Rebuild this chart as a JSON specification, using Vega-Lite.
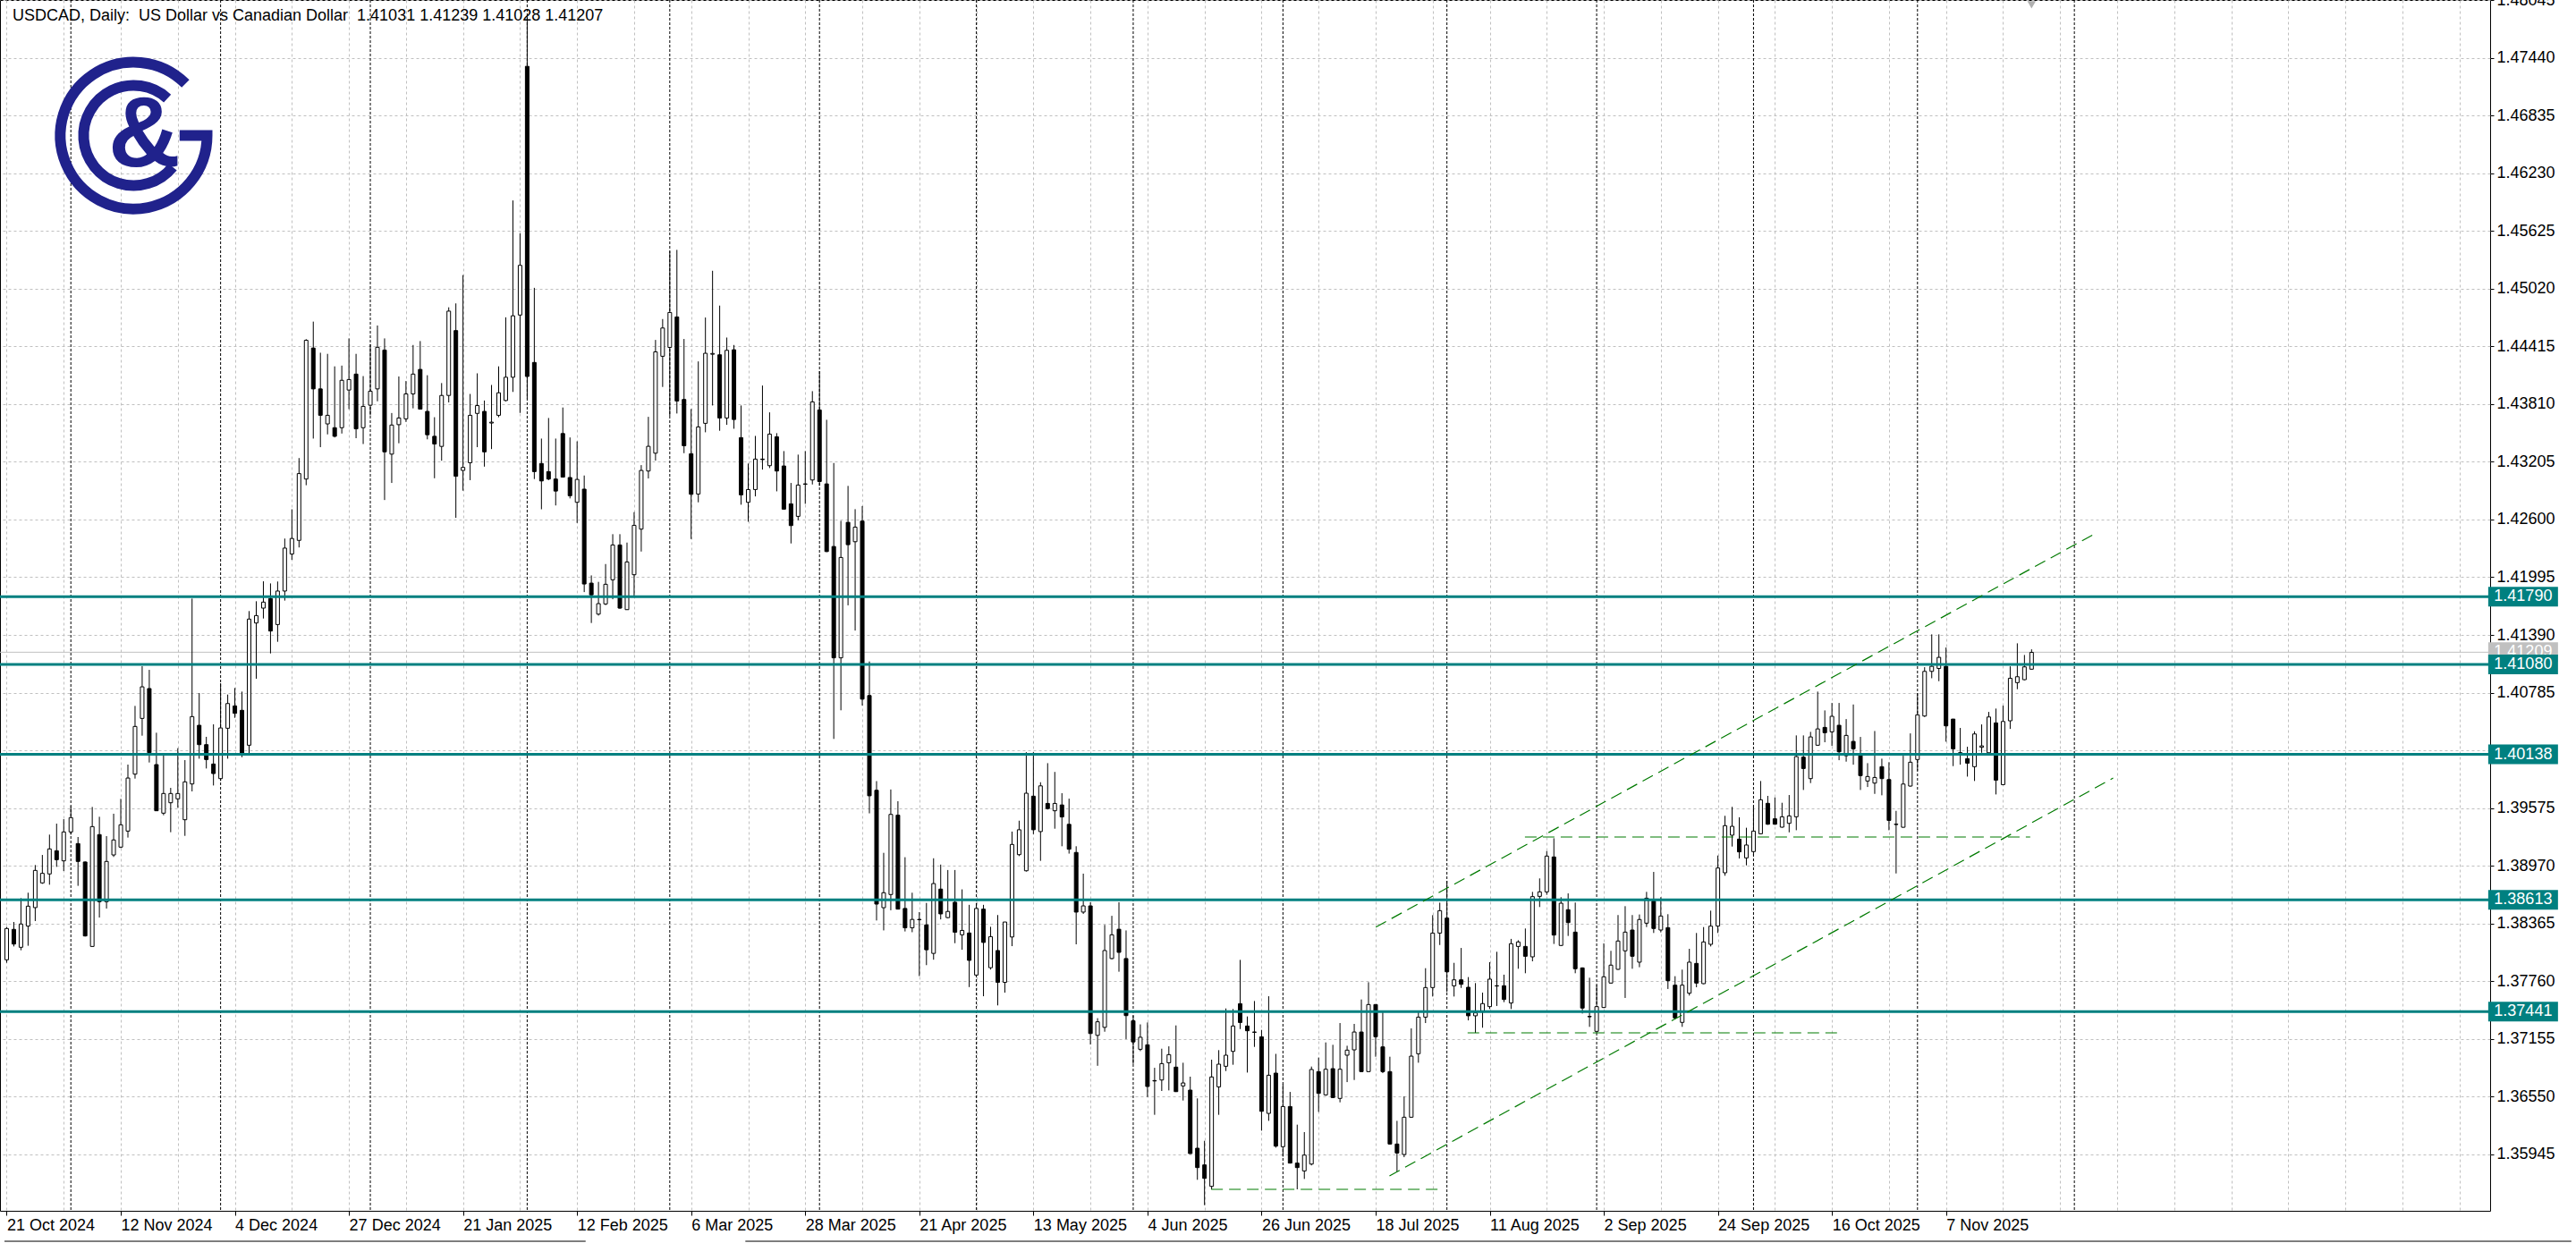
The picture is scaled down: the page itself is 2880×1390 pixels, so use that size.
{
"$schema":"https://vega.github.io/schema/vega-lite/v6.json",
"autosize":{"type":"none"},
"width":2784,"height":1354,
"padding":{"left":0,"top":0,"right":96,"bottom":36},
"background":"white",
"config":{"view":{"stroke":"black","strokeWidth":1},"font":"Liberation Sans"},
"datasets":{
"candles":[
{"i":0,"o":1.37985,"h":1.38329,"l":1.37954,"c":1.38313},
{"i":1,"o":1.38304,"h":1.38381,"l":1.38125,"c":1.38150},
{"i":2,"o":1.38116,"h":1.38631,"l":1.38085,"c":1.38360},
{"i":3,"o":1.38338,"h":1.38688,"l":1.38132,"c":1.38547},
{"i":4,"o":1.38532,"h":1.38978,"l":1.38391,"c":1.38922},
{"i":5,"o":1.38791,"h":1.39084,"l":1.38781,"c":1.38891},
{"i":6,"o":1.38885,"h":1.39297,"l":1.38772,"c":1.39147},
{"i":7,"o":1.39128,"h":1.39412,"l":1.38959,"c":1.39034},
{"i":8,"o":1.39022,"h":1.39459,"l":1.38916,"c":1.39325},
{"i":9,"o":1.39325,"h":1.39594,"l":1.39297,"c":1.39475},
{"i":10,"o":1.39203,"h":1.39272,"l":1.38760,"c":1.39016},
{"i":11,"o":1.39010,"h":1.39016,"l":1.38229,"c":1.38235},
{"i":12,"o":1.38125,"h":1.39587,"l":1.38122,"c":1.39381},
{"i":13,"o":1.39297,"h":1.39484,"l":1.38428,"c":1.38594},
{"i":14,"o":1.38594,"h":1.39281,"l":1.38522,"c":1.39016},
{"i":15,"o":1.39084,"h":1.39516,"l":1.39063,"c":1.39241},
{"i":16,"o":1.39166,"h":1.39672,"l":1.39156,"c":1.39400},
{"i":17,"o":1.39334,"h":1.40031,"l":1.39266,"c":1.39890},
{"i":18,"o":1.39931,"h":1.40646,"l":1.39884,"c":1.40431},
{"i":19,"o":1.40515,"h":1.41062,"l":1.40334,"c":1.40846},
{"i":20,"o":1.40828,"h":1.41024,"l":1.40053,"c":1.40156},
{"i":21,"o":1.40031,"h":1.40365,"l":1.39547,"c":1.39547},
{"i":22,"o":1.39522,"h":1.40125,"l":1.39500,"c":1.39728},
{"i":23,"o":1.39631,"h":1.39787,"l":1.39322,"c":1.39728},
{"i":24,"o":1.39672,"h":1.40203,"l":1.39578,"c":1.39728},
{"i":25,"o":1.39453,"h":1.40078,"l":1.39284,"c":1.39850},
{"i":26,"o":1.39828,"h":1.41771,"l":1.39750,"c":1.40534},
{"i":27,"o":1.40443,"h":1.40781,"l":1.40093,"c":1.40240},
{"i":28,"o":1.40240,"h":1.40322,"l":1.39990,"c":1.40084},
{"i":29,"o":1.40037,"h":1.40453,"l":1.39812,"c":1.39937},
{"i":30,"o":1.39884,"h":1.40884,"l":1.39859,"c":1.40415},
{"i":31,"o":1.40412,"h":1.40765,"l":1.40093,"c":1.40671},
{"i":32,"o":1.40646,"h":1.40834,"l":1.40521,"c":1.40568},
{"i":33,"o":1.40600,"h":1.40796,"l":1.40109,"c":1.40150},
{"i":34,"o":1.40234,"h":1.41640,"l":1.40150,"c":1.41556},
{"i":35,"o":1.41515,"h":1.41743,"l":1.40931,"c":1.41593},
{"i":36,"o":1.41671,"h":1.41952,"l":1.41562,"c":1.41734},
{"i":37,"o":1.41771,"h":1.41930,"l":1.41196,"c":1.41431},
{"i":38,"o":1.41499,"h":1.41950,"l":1.41318,"c":1.41850},
{"i":39,"o":1.41850,"h":1.42400,"l":1.41750,"c":1.42300},
{"i":40,"o":1.42238,"h":1.42707,"l":1.42177,"c":1.42401},
{"i":41,"o":1.42381,"h":1.43244,"l":1.42307,"c":1.43081},
{"i":42,"o":1.43024,"h":1.44490,"l":1.42959,"c":1.44478},
{"i":43,"o":1.44397,"h":1.44674,"l":1.43448,"c":1.43969},
{"i":44,"o":1.43969,"h":1.44348,"l":1.43358,"c":1.43692},
{"i":45,"o":1.43602,"h":1.44336,"l":1.43492,"c":1.43692},
{"i":46,"o":1.43562,"h":1.44205,"l":1.43460,"c":1.43472},
{"i":47,"o":1.43562,"h":1.44213,"l":1.43501,"c":1.44059},
{"i":48,"o":1.43957,"h":1.44498,"l":1.43757,"c":1.44067},
{"i":49,"o":1.44124,"h":1.44336,"l":1.43452,"c":1.43550},
{"i":50,"o":1.43562,"h":1.44103,"l":1.43391,"c":1.43786},
{"i":51,"o":1.43798,"h":1.44437,"l":1.43692,"c":1.43945},
{"i":52,"o":1.43969,"h":1.44633,"l":1.43839,"c":1.44405},
{"i":53,"o":1.44376,"h":1.44498,"l":1.42804,"c":1.43309},
{"i":54,"o":1.43285,"h":1.43716,"l":1.42983,"c":1.43590},
{"i":55,"o":1.43594,"h":1.44099,"l":1.43399,"c":1.43664},
{"i":56,"o":1.43655,"h":1.44051,"l":1.43623,"c":1.43916},
{"i":57,"o":1.43916,"h":1.44429,"l":1.43765,"c":1.44124},
{"i":58,"o":1.44173,"h":1.44470,"l":1.43757,"c":1.43757},
{"i":59,"o":1.43733,"h":1.44112,"l":1.43440,"c":1.43488},
{"i":60,"o":1.43472,"h":1.43672,"l":1.43032,"c":1.43391},
{"i":61,"o":1.43366,"h":1.44030,"l":1.43216,"c":1.43900},
{"i":62,"o":1.43900,"h":1.44824,"l":1.43827,"c":1.44784},
{"i":63,"o":1.44580,"h":1.44865,"l":1.42617,"c":1.43053},
{"i":64,"o":1.43114,"h":1.45162,"l":1.42902,"c":1.43146},
{"i":65,"o":1.43195,"h":1.43916,"l":1.43012,"c":1.43692},
{"i":66,"o":1.43712,"h":1.44132,"l":1.43358,"c":1.43794},
{"i":67,"o":1.43733,"h":1.43847,"l":1.43154,"c":1.43309},
{"i":68,"o":1.43611,"h":1.44010,"l":1.43338,"c":1.43620},
{"i":69,"o":1.43692,"h":1.44205,"l":1.43672,"c":1.43928},
{"i":70,"o":1.43847,"h":1.44719,"l":1.43839,"c":1.44091},
{"i":71,"o":1.44091,"h":1.45944,"l":1.43937,"c":1.44735},
{"i":72,"o":1.44743,"h":1.45598,"l":1.43717,"c":1.45264},
{"i":73,"o":1.47350,"h":1.47875,"l":1.43867,"c":1.44099},
{"i":74,"o":1.44246,"h":1.45028,"l":1.43024,"c":1.43102},
{"i":75,"o":1.43187,"h":1.43448,"l":1.42707,"c":1.43004},
{"i":76,"o":1.43102,"h":1.43664,"l":1.43012,"c":1.43024},
{"i":77,"o":1.43024,"h":1.43448,"l":1.42747,"c":1.42898},
{"i":78,"o":1.43501,"h":1.43774,"l":1.43044,"c":1.43044},
{"i":79,"o":1.43040,"h":1.43460,"l":1.42821,"c":1.42849},
{"i":80,"o":1.42780,"h":1.43419,"l":1.42564,"c":1.43020},
{"i":81,"o":1.42918,"h":1.43061,"l":1.41839,"c":1.41924},
{"i":82,"o":1.41933,"h":1.42014,"l":1.41515,"c":1.41810},
{"i":83,"o":1.41608,"h":1.41946,"l":1.41593,"c":1.41718},
{"i":84,"o":1.41715,"h":1.42133,"l":1.41702,"c":1.41921},
{"i":85,"o":1.41968,"h":1.42446,"l":1.41764,"c":1.42333},
{"i":86,"o":1.42333,"h":1.42446,"l":1.41664,"c":1.41671},
{"i":87,"o":1.41655,"h":1.42358,"l":1.41655,"c":1.42155},
{"i":88,"o":1.42021,"h":1.42677,"l":1.41796,"c":1.42539},
{"i":89,"o":1.42499,"h":1.43170,"l":1.42264,"c":1.43114},
{"i":90,"o":1.43108,"h":1.43676,"l":1.43030,"c":1.43367},
{"i":91,"o":1.43295,"h":1.44482,"l":1.43217,"c":1.44357},
{"i":92,"o":1.44311,"h":1.44701,"l":1.43989,"c":1.44607},
{"i":93,"o":1.44404,"h":1.45413,"l":1.43686,"c":1.44770},
{"i":94,"o":1.44723,"h":1.45426,"l":1.43711,"c":1.43842},
{"i":95,"o":1.43858,"h":1.44492,"l":1.43295,"c":1.43373},
{"i":96,"o":1.43289,"h":1.43758,"l":1.42395,"c":1.42864},
{"i":97,"o":1.42867,"h":1.44257,"l":1.42780,"c":1.43570},
{"i":98,"o":1.43608,"h":1.44717,"l":1.43514,"c":1.44342},
{"i":99,"o":1.44332,"h":1.45207,"l":1.43795,"c":1.44340},
{"i":100,"o":1.44326,"h":1.44842,"l":1.43530,"c":1.43664},
{"i":101,"o":1.43664,"h":1.44507,"l":1.43592,"c":1.44373},
{"i":102,"o":1.44379,"h":1.44429,"l":1.43551,"c":1.43648},
{"i":103,"o":1.43458,"h":1.43795,"l":1.42755,"c":1.42858},
{"i":104,"o":1.42780,"h":1.43186,"l":1.42577,"c":1.42914},
{"i":105,"o":1.42914,"h":1.43476,"l":1.42842,"c":1.43233},
{"i":106,"o":1.43233,"h":1.44004,"l":1.43123,"c":1.43228},
{"i":107,"o":1.43164,"h":1.43723,"l":1.43139,"c":1.43495},
{"i":108,"o":1.43467,"h":1.43505,"l":1.42895,"c":1.43108},
{"i":109,"o":1.43161,"h":1.43317,"l":1.42708,"c":1.42708},
{"i":110,"o":1.42764,"h":1.42983,"l":1.42349,"c":1.42536},
{"i":111,"o":1.42633,"h":1.43280,"l":1.42592,"c":1.42961},
{"i":112,"o":1.42973,"h":1.43317,"l":1.42764,"c":1.42970},
{"i":113,"o":1.43014,"h":1.43945,"l":1.42967,"c":1.43833},
{"i":114,"o":1.43748,"h":1.44154,"l":1.42952,"c":1.42998},
{"i":115,"o":1.42973,"h":1.43645,"l":1.42258,"c":1.42264},
{"i":116,"o":1.42317,"h":1.43192,"l":1.40300,"c":1.41150},
{"i":117,"o":1.41150,"h":1.42586,"l":1.40600,"c":1.42202},
{"i":118,"o":1.42570,"h":1.42952,"l":1.41700,"c":1.42336},
{"i":119,"o":1.42367,"h":1.42708,"l":1.41436,"c":1.42520},
{"i":120,"o":1.42583,"h":1.42741,"l":1.40650,"c":1.40717},
{"i":121,"o":1.40755,"h":1.41112,"l":1.39520,"c":1.39704},
{"i":122,"o":1.39762,"h":1.39858,"l":1.38397,"c":1.38569},
{"i":123,"o":1.38531,"h":1.39106,"l":1.38293,"c":1.38688},
{"i":124,"o":1.38669,"h":1.39770,"l":1.38504,"c":1.39509},
{"i":125,"o":1.39501,"h":1.39647,"l":1.38516,"c":1.38516},
{"i":126,"o":1.38523,"h":1.39060,"l":1.38282,"c":1.38320},
{"i":127,"o":1.38320,"h":1.38688,"l":1.38274,"c":1.38408},
{"i":128,"o":1.38408,"h":1.38485,"l":1.37814,"c":1.38405},
{"i":129,"o":1.38351,"h":1.38581,"l":1.37929,"c":1.38090},
{"i":130,"o":1.38052,"h":1.39049,"l":1.37986,"c":1.38784},
{"i":131,"o":1.38726,"h":1.38983,"l":1.38408,"c":1.38466},
{"i":132,"o":1.38427,"h":1.38926,"l":1.38420,"c":1.38492},
{"i":133,"o":1.38588,"h":1.38926,"l":1.38159,"c":1.38274},
{"i":134,"o":1.38247,"h":1.38723,"l":1.38090,"c":1.38293},
{"i":135,"o":1.38266,"h":1.38561,"l":1.37699,"c":1.37979},
{"i":136,"o":1.37825,"h":1.38581,"l":1.37820,"c":1.38523},
{"i":137,"o":1.38516,"h":1.38561,"l":1.37603,"c":1.38167},
{"i":138,"o":1.37902,"h":1.38331,"l":1.37883,"c":1.38228},
{"i":139,"o":1.38082,"h":1.38454,"l":1.37507,"c":1.37749},
{"i":140,"o":1.37749,"h":1.38381,"l":1.37641,"c":1.38381},
{"i":141,"o":1.38224,"h":1.39329,"l":1.38128,"c":1.39194},
{"i":142,"o":1.39087,"h":1.39443,"l":1.39072,"c":1.39348},
{"i":143,"o":1.38918,"h":1.40161,"l":1.38910,"c":1.39731},
{"i":144,"o":1.39700,"h":1.40161,"l":1.39302,"c":1.39348},
{"i":145,"o":1.39329,"h":1.39846,"l":1.39022,"c":1.39808},
{"i":146,"o":1.39624,"h":1.40046,"l":1.39560,"c":1.39570},
{"i":147,"o":1.39547,"h":1.39954,"l":1.39359,"c":1.39624},
{"i":148,"o":1.39608,"h":1.39731,"l":1.39175,"c":1.39482},
{"i":149,"o":1.39405,"h":1.39674,"l":1.39098,"c":1.39144},
{"i":150,"o":1.39110,"h":1.39175,"l":1.38147,"c":1.38485},
{"i":151,"o":1.38485,"h":1.38888,"l":1.38466,"c":1.38550},
{"i":152,"o":1.38550,"h":1.38588,"l":1.37097,"c":1.37212},
{"i":153,"o":1.37193,"h":1.37373,"l":1.36874,"c":1.37335},
{"i":154,"o":1.37277,"h":1.38351,"l":1.37231,"c":1.38082},
{"i":155,"o":1.37998,"h":1.38446,"l":1.37990,"c":1.38247},
{"i":156,"o":1.38305,"h":1.38588,"l":1.37860,"c":1.38063},
{"i":157,"o":1.37998,"h":1.38293,"l":1.37154,"c":1.37400},
{"i":158,"o":1.37346,"h":1.37400,"l":1.36893,"c":1.37124},
{"i":159,"o":1.37047,"h":1.37308,"l":1.37028,"c":1.37173},
{"i":160,"o":1.37094,"h":1.37328,"l":1.36547,"c":1.36657},
{"i":161,"o":1.36719,"h":1.36853,"l":1.36360,"c":1.36715},
{"i":162,"o":1.36725,"h":1.37053,"l":1.36610,"c":1.36897},
{"i":163,"o":1.36906,"h":1.37078,"l":1.36616,"c":1.36991},
{"i":164,"o":1.36860,"h":1.37297,"l":1.36600,"c":1.36603},
{"i":165,"o":1.36663,"h":1.36906,"l":1.36510,"c":1.36694},
{"i":166,"o":1.36619,"h":1.36760,"l":1.35950,"c":1.35954},
{"i":167,"o":1.36010,"h":1.36532,"l":1.35679,"c":1.35807},
{"i":168,"o":1.35835,"h":1.36088,"l":1.35413,"c":1.35694},
{"i":169,"o":1.35610,"h":1.36938,"l":1.35579,"c":1.36757},
{"i":170,"o":1.36653,"h":1.37038,"l":1.36360,"c":1.36891},
{"i":171,"o":1.36869,"h":1.37475,"l":1.36819,"c":1.36985},
{"i":172,"o":1.37025,"h":1.37469,"l":1.36885,"c":1.37291},
{"i":173,"o":1.37525,"h":1.37984,"l":1.37259,"c":1.37328},
{"i":174,"o":1.37291,"h":1.37391,"l":1.36803,"c":1.37241},
{"i":175,"o":1.37228,"h":1.37553,"l":1.37072,"c":1.37225},
{"i":176,"o":1.37178,"h":1.37250,"l":1.36194,"c":1.36397},
{"i":177,"o":1.36375,"h":1.37603,"l":1.36297,"c":1.36775},
{"i":178,"o":1.36797,"h":1.36999,"l":1.36016,"c":1.36032},
{"i":179,"o":1.36026,"h":1.36681,"l":1.35922,"c":1.36447},
{"i":180,"o":1.36447,"h":1.36600,"l":1.35850,"c":1.35854},
{"i":181,"o":1.35854,"h":1.36257,"l":1.35579,"c":1.35807},
{"i":182,"o":1.35772,"h":1.36179,"l":1.35688,"c":1.35938},
{"i":183,"o":1.35844,"h":1.36866,"l":1.35830,"c":1.36835},
{"i":184,"o":1.36813,"h":1.36960,"l":1.36391,"c":1.36585},
{"i":185,"o":1.36569,"h":1.37119,"l":1.36560,"c":1.36838},
{"i":186,"o":1.36844,"h":1.37094,"l":1.36535,"c":1.36541},
{"i":187,"o":1.36532,"h":1.37322,"l":1.36491,"c":1.36838},
{"i":188,"o":1.36985,"h":1.37084,"l":1.36703,"c":1.37038},
{"i":189,"o":1.37041,"h":1.37313,"l":1.36725,"c":1.37228},
{"i":190,"o":1.37228,"h":1.37569,"l":1.36810,"c":1.36813},
{"i":191,"o":1.36813,"h":1.37750,"l":1.36810,"c":1.37516},
{"i":192,"o":1.37516,"h":1.37520,"l":1.36969,"c":1.37178},
{"i":193,"o":1.37072,"h":1.37437,"l":1.36797,"c":1.36813},
{"i":194,"o":1.36813,"h":1.36969,"l":1.36050,"c":1.36054},
{"i":195,"o":1.36054,"h":1.36297,"l":1.35766,"c":1.35960},
{"i":196,"o":1.35944,"h":1.36553,"l":1.35916,"c":1.36335},
{"i":197,"o":1.36335,"h":1.37266,"l":1.36330,"c":1.36975},
{"i":198,"o":1.37000,"h":1.37437,"l":1.36906,"c":1.37384},
{"i":199,"o":1.37384,"h":1.37897,"l":1.37322,"c":1.37694},
{"i":200,"o":1.37694,"h":1.38453,"l":1.37600,"c":1.38265},
{"i":201,"o":1.38265,"h":1.38584,"l":1.38140,"c":1.38500},
{"i":202,"o":1.38422,"h":1.38812,"l":1.37647,"c":1.37859},
{"i":203,"o":1.37712,"h":1.37953,"l":1.37600,"c":1.37775},
{"i":204,"o":1.37775,"h":1.38109,"l":1.37690,"c":1.37728},
{"i":205,"o":1.37697,"h":1.37804,"l":1.37350,"c":1.37398},
{"i":206,"o":1.37398,"h":1.37741,"l":1.37219,"c":1.37429},
{"i":207,"o":1.37438,"h":1.37641,"l":1.37273,"c":1.37526},
{"i":208,"o":1.37494,"h":1.37960,"l":1.37469,"c":1.37782},
{"i":209,"o":1.37713,"h":1.38069,"l":1.37501,"c":1.37710},
{"i":210,"o":1.37713,"h":1.37829,"l":1.37541,"c":1.37569},
{"i":211,"o":1.37532,"h":1.38204,"l":1.37469,"c":1.38154},
{"i":212,"o":1.38125,"h":1.38190,"l":1.37891,"c":1.38172},
{"i":213,"o":1.38125,"h":1.38313,"l":1.37844,"c":1.38022},
{"i":214,"o":1.38016,"h":1.38697,"l":1.37969,"c":1.38647},
{"i":215,"o":1.38650,"h":1.38838,"l":1.38538,"c":1.38697},
{"i":216,"o":1.38697,"h":1.39125,"l":1.38666,"c":1.39072},
{"i":217,"o":1.39063,"h":1.39259,"l":1.38151,"c":1.38244},
{"i":218,"o":1.38135,"h":1.38641,"l":1.38130,"c":1.38578},
{"i":219,"o":1.38510,"h":1.38681,"l":1.38235,"c":1.38375},
{"i":220,"o":1.38275,"h":1.38585,"l":1.37844,"c":1.37891},
{"i":221,"o":1.37900,"h":1.37905,"l":1.37422,"c":1.37479},
{"i":222,"o":1.37391,"h":1.37797,"l":1.37282,"c":1.37388},
{"i":223,"o":1.37235,"h":1.37719,"l":1.37219,"c":1.37494},
{"i":224,"o":1.37485,"h":1.38157,"l":1.37480,"c":1.37807},
{"i":225,"o":1.37741,"h":1.38079,"l":1.37738,"c":1.37929},
{"i":226,"o":1.37885,"h":1.38454,"l":1.37880,"c":1.38182},
{"i":227,"o":1.38079,"h":1.38547,"l":1.37585,"c":1.38275},
{"i":228,"o":1.38297,"h":1.38454,"l":1.37891,"c":1.38022},
{"i":229,"o":1.37960,"h":1.38460,"l":1.37907,"c":1.38407},
{"i":230,"o":1.38369,"h":1.38697,"l":1.38328,"c":1.38631},
{"i":231,"o":1.38600,"h":1.38906,"l":1.38266,"c":1.38313},
{"i":232,"o":1.38297,"h":1.38641,"l":1.38272,"c":1.38444},
{"i":233,"o":1.38322,"h":1.38463,"l":1.37679,"c":1.37766},
{"i":234,"o":1.37719,"h":1.37813,"l":1.37360,"c":1.37376},
{"i":235,"o":1.37329,"h":1.37882,"l":1.37282,"c":1.37719},
{"i":236,"o":1.37635,"h":1.38100,"l":1.37610,"c":1.37960},
{"i":237,"o":1.37947,"h":1.38266,"l":1.37697,"c":1.37741},
{"i":238,"o":1.37735,"h":1.38328,"l":1.37730,"c":1.38172},
{"i":239,"o":1.38147,"h":1.38500,"l":1.38125,"c":1.38338},
{"i":240,"o":1.38338,"h":1.39078,"l":1.38266,"c":1.38947},
{"i":241,"o":1.38897,"h":1.39494,"l":1.38866,"c":1.39391},
{"i":242,"o":1.39291,"h":1.39588,"l":1.39172,"c":1.39384},
{"i":243,"o":1.39250,"h":1.39478,"l":1.39047,"c":1.39116},
{"i":244,"o":1.39053,"h":1.39369,"l":1.38975,"c":1.39188},
{"i":245,"o":1.39119,"h":1.39594,"l":1.39078,"c":1.39334},
{"i":246,"o":1.39306,"h":1.39859,"l":1.39300,"c":1.39662},
{"i":247,"o":1.39625,"h":1.39703,"l":1.39400,"c":1.39406},
{"i":248,"o":1.39463,"h":1.39687,"l":1.39400,"c":1.39406},
{"i":249,"o":1.39375,"h":1.39631,"l":1.39370,"c":1.39484},
{"i":250,"o":1.39415,"h":1.39712,"l":1.39321,"c":1.39493},
{"i":251,"o":1.39484,"h":1.40337,"l":1.39343,"c":1.40115},
{"i":252,"o":1.40109,"h":1.40337,"l":1.39765,"c":1.39990},
{"i":253,"o":1.39884,"h":1.40374,"l":1.39837,"c":1.40321},
{"i":254,"o":1.40234,"h":1.40796,"l":1.40230,"c":1.40405},
{"i":255,"o":1.40421,"h":1.40599,"l":1.40265,"c":1.40365},
{"i":256,"o":1.40374,"h":1.40677,"l":1.40227,"c":1.40537},
{"i":257,"o":1.40443,"h":1.40677,"l":1.40077,"c":1.40165},
{"i":258,"o":1.40124,"h":1.40508,"l":1.40062,"c":1.40337},
{"i":259,"o":1.40274,"h":1.40661,"l":1.40030,"c":1.40196},
{"i":260,"o":1.40124,"h":1.40321,"l":1.39765,"c":1.39915},
{"i":261,"o":1.39859,"h":1.40046,"l":1.39796,"c":1.39906},
{"i":262,"o":1.39837,"h":1.40383,"l":1.39724,"c":1.39896},
{"i":263,"o":1.40009,"h":1.40093,"l":1.39709,"c":1.39884},
{"i":264,"o":1.39874,"h":1.40056,"l":1.39343,"c":1.39446},
{"i":265,"o":1.39406,"h":1.39546,"l":1.38890,"c":1.39403},
{"i":266,"o":1.39374,"h":1.40124,"l":1.39370,"c":1.39827},
{"i":267,"o":1.39806,"h":1.40358,"l":1.39800,"c":1.40056},
{"i":268,"o":1.40084,"h":1.40780,"l":1.39968,"c":1.40552},
{"i":269,"o":1.40540,"h":1.41052,"l":1.40530,"c":1.41008},
{"i":270,"o":1.41008,"h":1.41396,"l":1.40936,"c":1.41061},
{"i":271,"o":1.41039,"h":1.41396,"l":1.40905,"c":1.41155},
{"i":272,"o":1.41061,"h":1.41258,"l":1.40271,"c":1.40437},
{"i":273,"o":1.40508,"h":1.40510,"l":1.40015,"c":1.40196},
{"i":274,"o":1.40155,"h":1.40415,"l":1.40030,"c":1.40152},
{"i":275,"o":1.40093,"h":1.40218,"l":1.39905,"c":1.40046},
{"i":276,"o":1.40009,"h":1.40380,"l":1.39859,"c":1.40352},
{"i":277,"o":1.40212,"h":1.40452,"l":1.40155,"c":1.40227},
{"i":278,"o":1.40155,"h":1.40583,"l":1.40150,"c":1.40530},
{"i":279,"o":1.40468,"h":1.40618,"l":1.39718,"c":1.39868},
{"i":280,"o":1.39821,"h":1.40649,"l":1.39815,"c":1.40483},
{"i":281,"o":1.40490,"h":1.41061,"l":1.40405,"c":1.40936},
{"i":282,"o":1.40890,"h":1.41302,"l":1.40821,"c":1.40952},
{"i":283,"o":1.40921,"h":1.41180,"l":1.40915,"c":1.41055},
{"i":284,"o":1.41031,"h":1.41239,"l":1.41028,"c":1.41207}
],
"levels":[
{"p":1.41790,"label":"1.41790"},
{"p":1.41080,"label":"1.41080"},
{"p":1.40138,"label":"1.40138"},
{"p":1.38613,"label":"1.38613"},
{"p":1.37441,"label":"1.37441"}
],
"price":[{"p":1.41209,"label":"1.41209"}],
"separators":[{"i":9},{"i":30},{"i":51},{"i":73},{"i":93},{"i":114},{"i":136},{"i":158},{"i":179},{"i":202},{"i":223},{"i":245},{"i":268},{"i":290}],
"trend":[
{"id":"A","i":192.03,"p":1.38328},{"id":"A","i":293.06,"p":1.42458},
{"id":"B","i":193.94,"p":1.35720},{"id":"B","i":295.44,"p":1.39890},
{"id":"C","i":168.94,"p":1.35579},{"id":"C","i":200.94,"p":1.35579},
{"id":"D","i":204.9,"p":1.37219},{"id":"D","i":256.8,"p":1.37219},
{"id":"E","i":212.94,"p":1.39272},{"id":"E","i":283.81,"p":1.39272}
]
},
"layer":[
{
"data":{"name":"separators"},
"mark":{"type":"rule","color":"black","strokeWidth":1,"strokeDash":[3,2]},
"encoding":{
"x":{"field":"i","type":"quantitative","scale":{"domain":[-0.3125,347.6875],"nice":false,"zero":false},
"axis":{"orient":"bottom","title":null,"values":[0,8,16,24,32,40,48,56,64,72,80,88,96,104,112,120,128,136,144,152,160,168,176,184,192,200,208,216,224,232,240,248,256,264,272,280,288,296,304,312,320,328,336,344],
"labelExpr":"datum.value % 16 === 0 ? (['21 Oct 2024','12 Nov 2024','4 Dec 2024','27 Dec 2024','21 Jan 2025','12 Feb 2025','6 Mar 2025','28 Mar 2025','21 Apr 2025','13 May 2025','4 Jun 2025','26 Jun 2025','18 Jul 2025','11 Aug 2025','2 Sep 2025','24 Sep 2025','16 Oct 2025','7 Nov 2025'][datum.value / 16] || '') : ''",
"grid":true,"gridColor":"#c0c0c0","gridDash":[3,3],"gridWidth":1,"domain":false,
"tickSize":5,"tickColor":"black","tickOpacity":{"condition":{"test":"datum.value % 16 === 0 && datum.value <= 272","value":1},"value":0},
"labelAlign":"left","labelFont":"Liberation Sans","labelFontSize":18,"labelColor":"black","labelPadding":2,
"labelOverlap":false,"labelFlush":false,"labelBound":false}}
}
},
{
"data":{"name":"price"},
"mark":{"type":"rule","color":"#c0c0c0","strokeWidth":1},
"encoding":{
"y":{"field":"p","type":"quantitative","scale":{"domain":[1.35354,1.48045],"nice":false,"zero":false},
"axis":{"orient":"right","title":null,"values":[1.48045,1.4744,1.46835,1.4623,1.45625,1.4502,1.44415,1.4381,1.43205,1.426,1.41995,1.4139,1.40785,1.4018,1.39575,1.3897,1.38365,1.3776,1.37155,1.3655,1.35945],
"labelExpr":"abs(datum.value - 1.4018) < 0.00001 ? '' : format(datum.value, '.5f')",
"grid":true,"gridColor":"#c0c0c0","gridDash":[3,3],"gridWidth":1,"domain":false,
"tickSize":4,"tickColor":"black","labelFont":"Liberation Sans","labelFontSize":18,"labelColor":"black","labelPadding":3,
"labelBaseline":"middle","labelOverlap":false,"labelFlush":false,"labelBound":false}}
}
},
{
"data":{"name":"candles"},
"mark":{"type":"rule","color":"black","strokeWidth":1},
"encoding":{
"x":{"field":"i","type":"quantitative","scale":{"domain":[-0.3125,347.6875],"nice":false,"zero":false}},
"y":{"field":"l","type":"quantitative","scale":{"domain":[1.35354,1.48045],"nice":false,"zero":false}},
"y2":{"field":"h"}
}
},
{
"data":{"name":"candles"},
"mark":{"type":"bar","width":4,"stroke":"black","strokeWidth":1},
"encoding":{
"x":{"field":"i","type":"quantitative","scale":{"domain":[-0.3125,347.6875],"nice":false,"zero":false}},
"y":{"field":"o","type":"quantitative","scale":{"domain":[1.35354,1.48045],"nice":false,"zero":false}},
"y2":{"field":"c"},
"fill":{"condition":{"test":"datum.c < datum.o","value":"black"},"value":"white"}
}
},
{
"data":{"name":"levels"},
"mark":{"type":"rule","color":"#008080","strokeWidth":3},
"encoding":{
"y":{"field":"p","type":"quantitative","scale":{"domain":[1.35354,1.48045],"nice":false,"zero":false}}
}
},
{
"data":{"name":"trend"},
"mark":{"type":"line","color":"#007a00","strokeWidth":1.2,"strokeDash":[13,7]},
"encoding":{
"x":{"field":"i","type":"quantitative","scale":{"domain":[-0.3125,347.6875],"nice":false,"zero":false}},
"y":{"field":"p","type":"quantitative","scale":{"domain":[1.35354,1.48045],"nice":false,"zero":false}},
"detail":{"field":"id","type":"nominal"}
}
},
{
"data":{"name":"price"},
"mark":{"type":"tick","orient":"horizontal","size":78,"thickness":22,"color":"#c0c0c0","opacity":1},
"encoding":{
"x":{"datum":352.94,"type":"quantitative","scale":{"domain":[-0.3125,347.6875],"nice":false,"zero":false}},
"y":{"field":"p","type":"quantitative","scale":{"domain":[1.35354,1.48045],"nice":false,"zero":false}}
}
},
{
"data":{"name":"price"},
"mark":{"type":"text","color":"white","font":"Liberation Sans","fontSize":18,"align":"center","baseline":"middle"},
"encoding":{
"x":{"datum":352.94,"type":"quantitative","scale":{"domain":[-0.3125,347.6875],"nice":false,"zero":false}},
"y":{"field":"p","type":"quantitative","scale":{"domain":[1.35354,1.48045],"nice":false,"zero":false}},
"text":{"field":"label"}
}
},
{
"data":{"name":"levels"},
"mark":{"type":"tick","orient":"horizontal","size":78,"thickness":22,"color":"#008080","opacity":1},
"encoding":{
"x":{"datum":352.94,"type":"quantitative","scale":{"domain":[-0.3125,347.6875],"nice":false,"zero":false}},
"y":{"field":"p","type":"quantitative","scale":{"domain":[1.35354,1.48045],"nice":false,"zero":false}}
}
},
{
"data":{"name":"levels"},
"mark":{"type":"text","color":"white","font":"Liberation Sans","fontSize":18,"align":"center","baseline":"middle"},
"encoding":{
"x":{"datum":352.94,"type":"quantitative","scale":{"domain":[-0.3125,347.6875],"nice":false,"zero":false}},
"y":{"field":"p","type":"quantitative","scale":{"domain":[1.35354,1.48045],"nice":false,"zero":false}},
"text":{"field":"label"}
}
},
{
"data":{"values":[{"t":"USDCAD, Daily: \u00a0US Dollar vs Canadian Dollar \u00a01.41031 1.41239 1.41028 1.41207"}]},
"mark":{"type":"text","color":"black","font":"Liberation Sans","fontSize":18,"align":"left","baseline":"alphabetic"},
"encoding":{
"x":{"datum":0.8125,"type":"quantitative","scale":{"domain":[-0.3125,347.6875],"nice":false,"zero":false}},
"y":{"datum":1.47832,"type":"quantitative","scale":{"domain":[1.35354,1.48045],"nice":false,"zero":false}},
"text":{"field":"t"}
}
},
{
"data":{"values":[{"name":"logo"}]},
"mark":{"type":"point","filled":false,"opacity":1,"stroke":"#20228c","strokeWidth":12,"strokeCap":"butt","size":31329,
"shape":"M0.655,-0.655 A0.927,0.927 0 1 0 0.927,0 L0.58,0 M0.426,-0.468 A0.633,0.633 0 1 0 0.492,0.398"},
"encoding":{
"x":{"datum":17.81,"type":"quantitative","scale":{"domain":[-0.3125,347.6875],"nice":false,"zero":false}},
"y":{"datum":1.46625,"type":"quantitative","scale":{"domain":[1.35354,1.48045],"nice":false,"zero":false}}
}
},
{
"data":{"values":[{"t":"&"}]},
"mark":{"type":"text","color":"#20228c","font":"Liberation Sans","fontWeight":"bold","fontSize":112,"align":"center","baseline":"middle"},
"encoding":{
"x":{"datum":19.31,"type":"quantitative","scale":{"domain":[-0.3125,347.6875],"nice":false,"zero":false}},
"y":{"datum":1.4662,"type":"quantitative","scale":{"domain":[1.35354,1.48045],"nice":false,"zero":false}},
"text":{"field":"t"}
}
},
{
"data":{"values":[{"i":284}]},
"mark":{"type":"point","shape":"triangle-down","filled":true,"opacity":1,"color":"#b0b0b0","size":90},
"encoding":{
"x":{"field":"i","type":"quantitative","scale":{"domain":[-0.3125,347.6875],"nice":false,"zero":false}},
"y":{"datum":1.47995,"type":"quantitative","scale":{"domain":[1.35354,1.48045],"nice":false,"zero":false}}
}
},
{
"data":{"values":[{"a":-0.3125,"b":81.2},{"a":103.6,"b":359.7}]},
"mark":{"type":"rule","color":"black","strokeWidth":1},
"encoding":{
"x":{"field":"a","type":"quantitative","scale":{"domain":[-0.3125,347.6875],"nice":false,"zero":false}},
"x2":{"field":"b"},
"y":{"datum":1.35035,"type":"quantitative","scale":{"domain":[1.35354,1.48045],"nice":false,"zero":false}}
}
}
]
}
